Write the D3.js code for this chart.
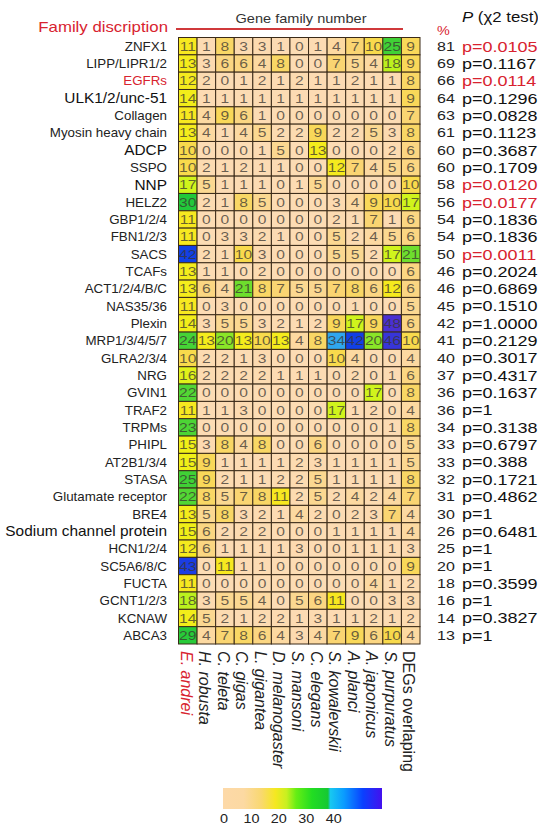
<!DOCTYPE html>
<html>
<head>
<meta charset="utf-8">
<script src="https://cdn.jsdelivr.net/npm/d3@7"></script>
<style>
  body { margin: 0; background: #fff; }
  svg { display: block; }
  text { font-family: "Liberation Sans", Arial, sans-serif; }
</style>
</head>
<body>
<svg id="chart" width="538" height="827"></svg>
<script>
// Gene families (rows) and the genomes compared (columns)
const families = [
  "ZNFX1", "LIPP/LIPR1/2", "EGFRs", "ULK1/2/unc-51", "Collagen", "Myosin heavy chain",
  "ADCP", "SSPO", "NNP", "HELZ2", "GBP1/2/4", "FBN1/2/3", "SACS", "TCAFs",
  "ACT1/2/4/B/C", "NAS35/36", "Plexin", "MRP1/3/4/5/7", "GLRA2/3/4", "NRG", "GVIN1",
  "TRAF2", "TRPMs", "PHIPL", "AT2B1/3/4", "STASA", "Glutamate receptor", "BRE4",
  "Sodium channel protein", "HCN1/2/4", "SC5A6/8/C", "FUCTA", "GCNT1/2/3", "KCNAW", "ABCA3"
];
const species = [
  "E. andrei", "H. robusta", "C. teleta", "C. gigas", "L. gigantea", "D. melanogaster",
  "S. mansoni", "C. elegans", "S. kowalevskii", "A. planci", "A. japonicus",
  "S. purpuratus", "DEGs overlaping"
];

// Gene copy numbers, one row per family, one value per column above
const counts = [
  [11, 1, 8, 3, 3, 1, 0, 1, 4, 7, 10, 25, 9],
  [13, 3, 6, 6, 4, 8, 0, 0, 7, 5, 4, 18, 9],
  [12, 2, 0, 1, 2, 1, 2, 1, 1, 2, 1, 1, 8],
  [14, 1, 1, 1, 1, 1, 1, 1, 1, 1, 1, 1, 9],
  [11, 4, 9, 6, 1, 0, 0, 0, 0, 0, 0, 0, 7],
  [13, 4, 1, 4, 5, 2, 2, 9, 2, 2, 5, 3, 8],
  [10, 0, 0, 0, 1, 5, 0, 13, 0, 0, 0, 2, 6],
  [10, 2, 1, 2, 1, 1, 0, 0, 12, 7, 4, 5, 6],
  [17, 5, 1, 1, 1, 0, 1, 5, 0, 0, 0, 0, 10],
  [30, 2, 1, 8, 5, 0, 0, 0, 3, 4, 9, 10, 17],
  [11, 0, 0, 0, 0, 0, 0, 0, 2, 1, 7, 1, 6],
  [11, 0, 3, 3, 2, 1, 0, 0, 5, 2, 4, 5, 6],
  [42, 2, 1, 10, 3, 0, 0, 0, 5, 5, 2, 17, 21],
  [13, 1, 1, 0, 2, 0, 0, 0, 0, 0, 0, 0, 6],
  [13, 6, 4, 21, 8, 7, 5, 5, 7, 8, 6, 12, 6],
  [11, 0, 3, 0, 0, 0, 0, 0, 0, 1, 0, 0, 5],
  [14, 3, 5, 5, 3, 2, 1, 2, 9, 17, 9, 48, 6],
  [24, 13, 20, 13, 10, 13, 4, 8, 34, 42, 20, 46, 10],
  [10, 2, 2, 1, 3, 0, 0, 0, 10, 4, 0, 0, 4],
  [16, 2, 2, 2, 2, 1, 1, 1, 0, 2, 0, 1, 6],
  [22, 0, 0, 0, 0, 0, 0, 0, 0, 0, 17, 0, 8],
  [11, 1, 1, 3, 0, 0, 0, 0, 17, 1, 2, 0, 4],
  [23, 0, 0, 0, 0, 0, 0, 0, 0, 0, 0, 1, 8],
  [15, 3, 8, 4, 8, 0, 0, 6, 0, 0, 0, 0, 5],
  [15, 9, 1, 1, 1, 1, 2, 3, 1, 1, 1, 1, 5],
  [25, 9, 2, 1, 1, 2, 2, 5, 1, 1, 1, 1, 8],
  [22, 8, 5, 7, 8, 11, 2, 5, 2, 4, 2, 4, 7],
  [13, 5, 8, 3, 2, 1, 4, 2, 0, 2, 3, 7, 4],
  [15, 6, 2, 2, 2, 0, 0, 0, 1, 1, 1, 1, 4],
  [12, 6, 1, 1, 1, 1, 3, 0, 0, 1, 1, 1, 3],
  [43, 0, 11, 1, 1, 0, 0, 0, 0, 0, 0, 0, 9],
  [11, 0, 0, 0, 0, 0, 0, 0, 0, 0, 4, 1, 2],
  [18, 3, 5, 5, 4, 0, 5, 6, 11, 0, 0, 3, 3],
  [14, 5, 2, 1, 2, 2, 1, 3, 1, 1, 2, 1, 2],
  [29, 4, 7, 8, 6, 4, 3, 4, 7, 9, 6, 10, 4]
];

// Share of DEGs (%) and chi-square test P values per family
const percents = [81, 69, 66, 64, 63, 61, 60, 60, 58, 56, 54, 54, 50, 46, 46, 45, 42,
  41, 40, 37, 36, 36, 34, 33, 33, 32, 31, 30, 26, 25, 20, 18, 16, 14, 13];
const pValues = ["0.0105", "0.1167", "0.0114", "0.1296", "0.0828", "0.1123", "0.3687",
  "0.1709", "0.0120", "0.0177", "0.1836", "0.1836", "0.0011", "0.2024", "0.6869",
  "0.1510", "1.0000", "0.2129", "0.3017", "0.4317", "0.1637", "1", "0.3138", "0.6797",
  "0.388", "0.1721", "0.4862", "1", "0.6481", "1", "1", "0.3599", "1", "0.3827", "1"];

const legendTicks = [0, 10, 20, 30, 40];
const highlightedFamily = "EGFRs";
const focalSpecies = "E. andrei";
const largeLabelFamilies = ["ULK1/2/unc-51", "ADCP", "NNP", "Sodium channel protein"];

const RED = "#d8232f";
const svg = d3.select("#chart");

const x = d3.scaleBand().domain(species).range([178.5, 420]);
const y = d3.scaleBand().domain(families).range([37.5, 644]);

const color = d3.scaleLinear()
  .domain([0, 3, 7, 10, 11, 15, 17, 19, 22, 30, 31, 34, 42, 48])
  .range(["#fcdcb4", "#fcdab0", "#fad572", "#f8da4c", "#f7e820", "#f0ef18", "#d0f41c",
          "#a6ee20", "#52d634", "#22c83a", "#1fb8e8", "#2fa6ee", "#1140e6", "#4a2fd2"])
  .clamp(true);

// Heatmap cells
const cells = families.flatMap((f, i) => species.map((s, j) => ({ f, s, v: counts[i][j] })));
const g = svg.append("g");
g.selectAll("rect.cell").data(cells).join("rect")
  .attr("class", "cell")
  .attr("x", d => x(d.s)).attr("y", d => y(d.f))
  .attr("width", x.bandwidth()).attr("height", y.bandwidth())
  .attr("fill", d => color(d.v))
  .attr("stroke", "#3a2a18").attr("stroke-width", 1);

g.selectAll("text.val").data(cells).join("text")
  .attr("class", "val")
  .attr("transform", d => `translate(${x(d.s) + x.bandwidth() / 2},${y(d.f) + y.bandwidth() / 2}) scale(1.22,1)`)
  .attr("text-anchor", "middle").attr("dy", "0.36em")
  .attr("font-size", 12.8).attr("fill", "#3a3530").attr("fill-opacity", 0.75)
  .text(d => d.v);

// Row labels
svg.append("g").selectAll("text").data(families).join("text")
  .attr("transform", d => {
    const big = largeLabelFamilies.includes(d);
    return `translate(167,${y(d) + y.bandwidth() / 2}) scale(${big ? 1.1 : 1.06},1)`;
  })
  .attr("text-anchor", "end").attr("dy", "0.36em")
  .attr("font-size", d => largeLabelFamilies.includes(d) ? 14 : 12.6)
  .attr("fill", d => d === highlightedFamily ? RED : (largeLabelFamilies.includes(d) ? "#111" : "#222"))
  .text(d => d);

// Column labels, rotated
svg.append("g").selectAll("text").data(species).join("text")
  .attr("transform", d => `translate(${x(d) + x.bandwidth() / 2 - 1.5},651) rotate(90)`)
  .attr("text-anchor", "start").attr("dy", "0.36em")
  .attr("font-size", 16)
  .attr("font-style", d => d === "DEGs overlaping" ? "normal" : "italic")
  .attr("fill", d => d === focalSpecies ? RED : "#222")
  .text(d => d);

// Percent column
svg.append("g").selectAll("text").data(percents).join("text")
  .attr("transform", (d, i) => `translate(446,${y(families[i]) + y.bandwidth() / 2}) scale(1.28,1)`)
  .attr("text-anchor", "middle").attr("dy", "0.36em")
  .attr("font-size", 12.5).attr("fill", "#222")
  .text(d => d);

// P value column
svg.append("g").selectAll("text").data(pValues).join("text")
  .attr("transform", (d, i) => `translate(462,${y(families[i]) + y.bandwidth() / 2}) scale(1.2,1)`)
  .attr("text-anchor", "start").attr("dy", "0.36em")
  .attr("font-size", 15)
  .attr("fill", d => +d < 0.05 ? RED : "#111")
  .text(d => "p=" + d);

// Headers
svg.append("text")
  .attr("transform", "translate(168,32) scale(1.2,1)")
  .attr("text-anchor", "end").attr("font-size", 14).attr("fill", RED)
  .text("Family discription");
svg.append("line")
  .attr("x1", 176).attr("x2", 403).attr("y1", 29).attr("y2", 29)
  .attr("stroke", "#d0393b").attr("stroke-width", 2);
svg.append("text")
  .attr("transform", "translate(301,22.5) scale(1.12,1)")
  .attr("text-anchor", "middle").attr("font-size", 13).attr("fill", "#333")
  .text("Gene family number");
svg.append("text")
  .attr("transform", "translate(437,35) scale(1.2,1)")
  .attr("font-size", 12).attr("fill", RED)
  .text("%");
const pHead = svg.append("text")
  .attr("transform", "translate(462,22) scale(1.2,1)")
  .attr("font-size", 14).attr("fill", "#111");
pHead.append("tspan").attr("font-style", "italic").text("P");
pHead.append("tspan").text(" (χ2 test)");

// Colour legend
const legendX = d3.scaleLinear().domain([0, 58]).range([224, 383]);
const grad = svg.append("defs").append("linearGradient").attr("id", "legendGrad");
const stops = [
  [0, "#fdd9a8"], [0.13, "#fcd9a2"], [0.24, "#f9d870"], [0.33, "#f5e820"],
  [0.40, "#c8f020"], [0.46, "#66ee14"], [0.56, "#22dd22"], [0.66, "#16c833"],
  [0.675, "#18c8f0"], [0.76, "#0a9cff"], [0.88, "#0a40ff"], [1, "#4410ee"]
];
grad.selectAll("stop").data(stops).join("stop")
  .attr("offset", d => d[0]).attr("stop-color", d => d[1]);
svg.append("rect")
  .attr("x", legendX(0) - 1).attr("y", 788)
  .attr("width", legendX(58) - legendX(0)).attr("height", 21)
  .attr("fill", "url(#legendGrad)");
svg.append("g").selectAll("text").data(legendTicks).join("text")
  .attr("transform", d => `translate(${legendX(d)},823) scale(1.2,1)`)
  .attr("text-anchor", "middle").attr("font-size", 12).attr("fill", "#222")
  .text(d => d);
</script>
</body>
</html>
